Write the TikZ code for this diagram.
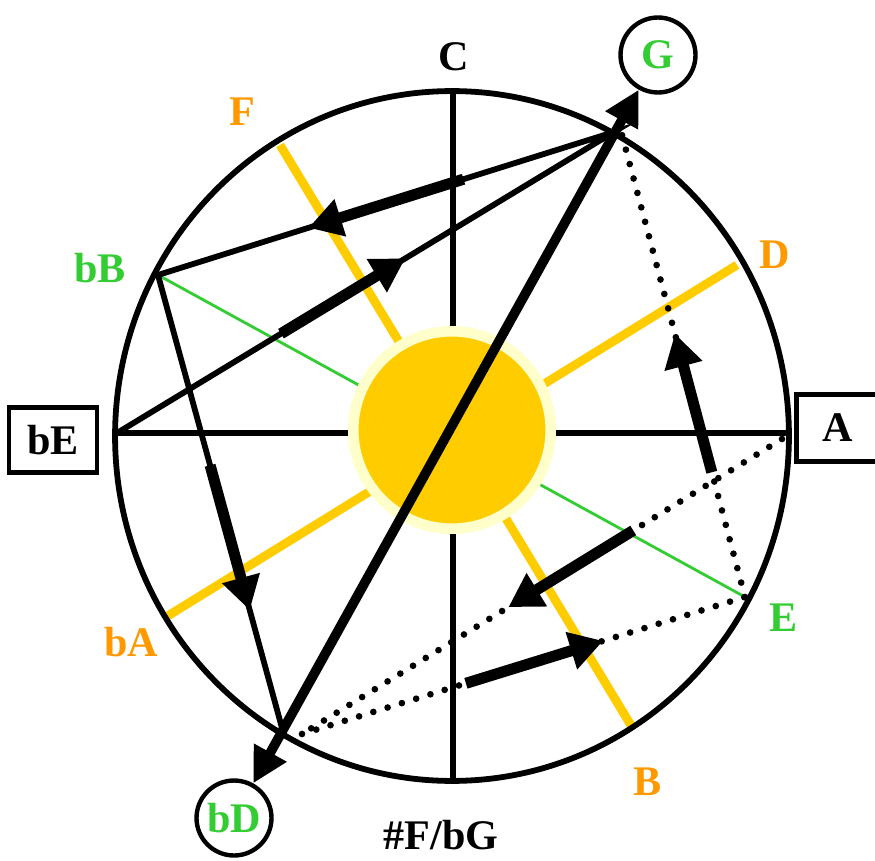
\documentclass[tikz,border=0pt]{standalone}
\usepackage{fontspec}
\setmainfont{Liberation Serif}
\usetikzlibrary{arrows.meta,calc}
\definecolor{sunyellow}{HTML}{FFCC00}
\definecolor{sunpale}{HTML}{FFFFCC}
\definecolor{notegreen}{HTML}{33CC33}
\definecolor{noteorange}{HTML}{FF9900}
\tikzset{
  lbl/.style={font=\fontsize{24}{26}\selectfont\bfseries,text depth=0pt,inner sep=0pt},
  keybox/.style={lbl,draw,line width=2.6pt,minimum width=1.76cm,minimum height=1.3cm},
  keyring/.style={lbl,text=notegreen,draw,circle,line width=2.5pt,minimum size=1.5cm},
  sun/.style={circle,fill=sunyellow,draw=sunpale,line width=6pt,minimum size=3.95cm,inner sep=0pt},
  spoke/.style={line width=3.3pt},
  ray/.style={sunyellow,line width=5pt},
  walk/.style={line width=3.3pt},
  fat/.style={line width=6.3pt,-{Triangle[length=19pt,width=21pt]}},
  dots/.style={line width=3.8pt,line cap=round,dash pattern=on 0pt off 8.5pt}
}

\begin{document}
\begin{tikzpicture}[x=0.02cm,y=-0.02cm]
\useasboundingbox (0,0) rectangle (875,861);
\coordinate (O) at (452,436);
\coordinate (Ctop) at (453,91);
\coordinate (Cbot) at (453,782);
\coordinate (bEp) at (117,433);
\coordinate (Ap) at (789,433);
\coordinate (Fy) at (280,145);
\coordinate (By) at (632,727);
\coordinate (Dy) at (737,265);
\coordinate (bAy) at (166,617);
\coordinate (bBp) at (158,275);
\coordinate (Ep) at (745,597);
\coordinate (Gp) at (614,132);
\coordinate (Gd) at (622,135);
\coordinate (Lp) at (282,728);
\coordinate (Mp) at (302,734);
\coordinate (Ad) at (782,439);

\draw[ray] (Fy) -- (By);
\draw[ray] (Dy) -- (bAy);
\draw[notegreen,line width=1.6pt] (bBp) -- (Ep);
\draw[spoke] (Ctop) -- (Cbot);
\draw[spoke] (bEp) -- (Ap);
\draw[line width=3.3pt] (O) ellipse (6.74cm and 6.9cm);
\node[sun] (sunc) at (452,430) {};

\draw[dots] (Ad) -- (Mp);
\draw[dots] (Mp) -- (Ep);
\draw[dots] (Ep) -- (Gd);
\draw[walk] (bEp) -- (Gp) -- (bBp) -- (Lp);
\foreach \u/\v/\s/\t in {Gp/bBp/0.33/0.67,bEp/Gp/0.33/0.58,bBp/Lp/0.42/0.74,
                         Ep/Gd/0.27/0.57,Ad/Mp/0.31/0.57,Mp/Ep/0.37/0.68}
  \draw[fat] ($(\u)!\s!(\v)$) -- ($(\u)!\t!(\v)$);

\node[keyring] (G) at (658,55) {G};
\node[keyring] (bD) at (234,818) {bD};
\draw[line width=5.5pt,{Triangle[length=20pt,width=20pt]}-{Triangle[length=20pt,width=20pt]}] (bD) -- (G);

\node[keybox] (bE) at (53,440) {bE};
\node[keybox,minimum width=1.66cm,minimum height=1.34cm] (A) at (838,428) {A};
\node[lbl] (C) at (454,57) {C};
\node[lbl,text=noteorange] (F) at (242,112) {F};
\node[lbl,text=noteorange] (D) at (775,255) {D};
\node[lbl,text=notegreen] (bB) at (100,268) {bB};
\node[lbl,text=notegreen] (E) at (784,618) {E};
\node[lbl,text=noteorange] (bA) at (131,642) {bA};
\node[lbl,text=noteorange] (B) at (648,782) {B};
\node[lbl] (FbG) at (441,835) {\#F/bG};
\end{tikzpicture}
\end{document}
